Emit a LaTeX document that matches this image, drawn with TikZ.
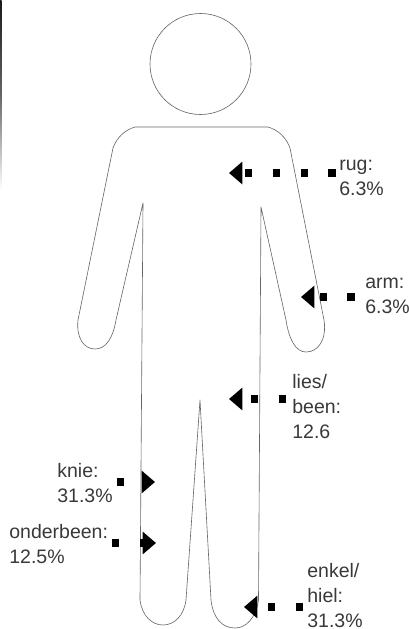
\documentclass[tikz,border=0pt]{standalone}
\usepackage{fontspec}
\setmainfont{Liberation Sans}
\usetikzlibrary{arrows.meta}

\tikzset{
	outline/.style={gray!80!black, line width=0.35pt},
	dotarrow/.style={line width=4.1pt, dash pattern=on 4pt off 11.9pt,
		-{Triangle[length=7.6pt, width=12.5pt]}},
	caption/.style={anchor=north west, inner sep=0pt, align=left, gray!45!black,
		font=\fontsize{11.1pt}{14.2pt}\selectfont},
}

\begin{document}
\begin{tikzpicture}[x=0.02cm, y=-0.02cm, line join=round]
	\useasboundingbox (0,0) rectangle (409,629);

	% ================= edge of the scan =================
	\shade[top color=black!90, bottom color=white, middle color=black!60] (0,0) rectangle (1.6,190);

	% ================= figure =================
	\draw[outline] (200.5,64) circle (50.5);
	\draw[outline] (135,127) -- (268,127)
		.. controls (278,130) and (286,137) .. (290,148)
		-- (324,320) .. controls (327,340) and (318,352) .. (306,352)
		.. controls (296,352) and (289,340) .. (286,320)
		-- (261,207) -- (258.5,600)
		.. controls (256,618) and (246,628) .. (235,628)
		.. controls (222,628) and (213,618) .. (211,600)
		-- (200,400) -- (186,600)
		.. controls (184,616) and (174,625) .. (163,625)
		.. controls (152,625) and (142,616) .. (140,600)
		-- (143,203) -- (116,320)
		.. controls (113,338) and (106,349) .. (95,349)
		.. controls (84,349) and (76,338) .. (78,320)
		-- (113,148) .. controls (117,137) and (125,130) .. (135,127);

	% ================= labels =================
	\node[caption] (rug) at (339,160) {rug:\\6.3\%};
	\node[caption] (arm) at (365,278) {arm:\\6.3\%};
	\node[caption] (lies) at (292,374) {lies/\\been:\\12.6};
	\node[caption] (knie) at (57,463) {knie:\\31.3\%};
	\node[caption] (onderbeen) at (9,524) {onderbeen:\\12.5\%};
	\node[caption] (enkel) at (307,563) {enkel/\\hiel:\\31.3\%};

	% ================= arrows =================
	\coordinate (rugstart) at (335.5,173);
	\coordinate (rugtip) at (229,173);
	\coordinate (armstart) at (354.5,297);
	\coordinate (armtip) at (301,297);
	\coordinate (liesstart) at (286,399);
	\coordinate (liestip) at (229,399);
	\coordinate (kniestart) at (116.5,482);
	\coordinate (knietip) at (155,482);
	\coordinate (onderbeenstart) at (112,543);
	\coordinate (onderbeentip) at (156,543);
	\coordinate (enkelstart) at (303,607);
	\coordinate (enkeltip) at (244,607);

	\foreach \name in {rug,arm,lies,knie,onderbeen,enkel}
		\draw[dotarrow] (\name start) -- (\name tip);
\end{tikzpicture}
\end{document}
